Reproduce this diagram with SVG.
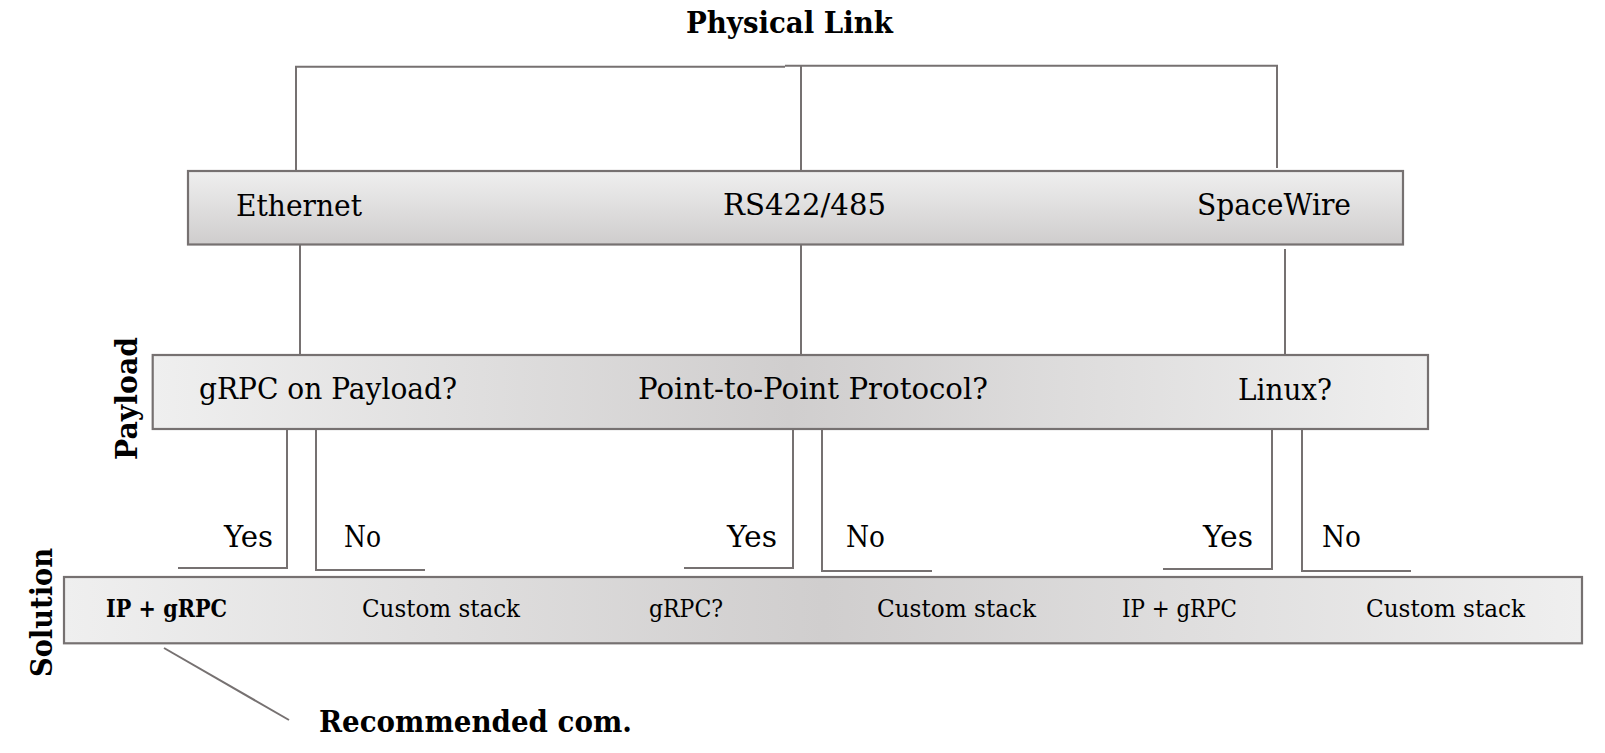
<svg xmlns="http://www.w3.org/2000/svg" width="1605" height="753" viewBox="0 0 1605 753">
  <defs>
    <linearGradient id="gradV" x1="0" y1="0" x2="0" y2="1">
      <stop offset="0" stop-color="#efefef"/>
      <stop offset="1" stop-color="#cfcdcd"/>
    </linearGradient>
    <linearGradient id="gradH" x1="0" y1="0" x2="1" y2="0">
      <stop offset="0" stop-color="#efefef"/>
      <stop offset="0.5" stop-color="#d0cece"/>
      <stop offset="1" stop-color="#efefef"/>
    </linearGradient>
    <style>
      .box { stroke: #767171; stroke-width: 2.2; }
      .conn { fill: none; stroke: #767171; stroke-width: 2; }
      .t { font-family: "DejaVu Serif", "Liberation Serif", serif; fill: #000; }
      .big { font-size: 30px; }
      .sm { font-size: 24px; }
      .b { font-weight: bold; }
    </style>
  </defs>
  <rect width="1605" height="753" fill="#ffffff"/>

  <g id="connectors">
    <path class="conn" d="M296,170 V66.7 H785 M785,65.7 H1277 V168 M801,65.7 V171"/>
    <path class="conn" d="M300,244 V355 M801,244 V355 M1285,249 V355"/>
    <path class="conn" d="M287,429 V568 H178"/>
    <path class="conn" d="M316,429 V570 H425"/>
    <path class="conn" d="M793,429 V568 H684"/>
    <path class="conn" d="M822,429 V571 H932"/>
    <path class="conn" d="M1272,429 V569 H1163"/>
    <path class="conn" d="M1302,429 V571 H1411"/>
    <path class="conn" d="M164,648 L289,720" stroke-width="1.6"/>
  </g>

  <g id="title">
    <text class="t big b" x="686" y="33" textLength="207" lengthAdjust="spacingAndGlyphs">Physical Link</text>
  </g>

  <g id="node-physical">
    <rect class="box" x="188" y="171" width="1215" height="73.5" fill="url(#gradV)"/>
    <text class="t big" x="236" y="216" textLength="126" lengthAdjust="spacingAndGlyphs">Ethernet</text>
    <text class="t big" x="723" y="215" textLength="163" lengthAdjust="spacingAndGlyphs">RS422/485</text>
    <text class="t big" x="1197" y="215" textLength="154" lengthAdjust="spacingAndGlyphs">SpaceWire</text>
  </g>

  <g id="node-payload">
    <rect class="box" x="152.7" y="355" width="1275.3" height="74" fill="url(#gradH)"/>
    <text class="t big" x="199" y="399" textLength="258" lengthAdjust="spacingAndGlyphs">gRPC on Payload?</text>
    <text class="t big" x="638" y="399" textLength="350" lengthAdjust="spacingAndGlyphs">Point-to-Point Protocol?</text>
    <text class="t big" x="1238" y="400" textLength="94" lengthAdjust="spacingAndGlyphs">Linux?</text>
  </g>

  <g id="label-payload">
    <text class="t big b" x="137" y="460" transform="rotate(-90 137 460)" textLength="123" lengthAdjust="spacingAndGlyphs">Payload</text>
  </g>

  <g id="branch-labels">
    <text class="t big" x="224" y="547" textLength="49" lengthAdjust="spacingAndGlyphs">Yes</text>
    <text class="t big" x="344" y="547" textLength="37" lengthAdjust="spacingAndGlyphs">No</text>
    <text class="t big" x="727" y="547" textLength="50" lengthAdjust="spacingAndGlyphs">Yes</text>
    <text class="t big" x="846" y="547" textLength="39" lengthAdjust="spacingAndGlyphs">No</text>
    <text class="t big" x="1203" y="547" textLength="50" lengthAdjust="spacingAndGlyphs">Yes</text>
    <text class="t big" x="1322" y="547" textLength="39" lengthAdjust="spacingAndGlyphs">No</text>
  </g>

  <g id="node-solution">
    <rect class="box" x="64" y="577" width="1518" height="66.3" fill="url(#gradH)"/>
    <text class="t sm b" x="106" y="617" textLength="121" lengthAdjust="spacingAndGlyphs">IP + gRPC</text>
    <text class="t sm" x="362" y="617" textLength="158" lengthAdjust="spacingAndGlyphs">Custom stack</text>
    <text class="t sm" x="649" y="617" textLength="74" lengthAdjust="spacingAndGlyphs">gRPC?</text>
    <text class="t sm" x="877" y="617" textLength="159" lengthAdjust="spacingAndGlyphs">Custom stack</text>
    <text class="t sm" x="1122" y="617" textLength="115" lengthAdjust="spacingAndGlyphs">IP + gRPC</text>
    <text class="t sm" x="1366" y="617" textLength="159" lengthAdjust="spacingAndGlyphs">Custom stack</text>
  </g>

  <g id="label-solution">
    <text class="t big b" x="52" y="677" transform="rotate(-90 52 677)" textLength="129" lengthAdjust="spacingAndGlyphs">Solution</text>
  </g>

  <g id="note-recommended">
    <text class="t big b" x="319" y="732" textLength="313" lengthAdjust="spacingAndGlyphs">Recommended com.</text>
  </g>
</svg>
